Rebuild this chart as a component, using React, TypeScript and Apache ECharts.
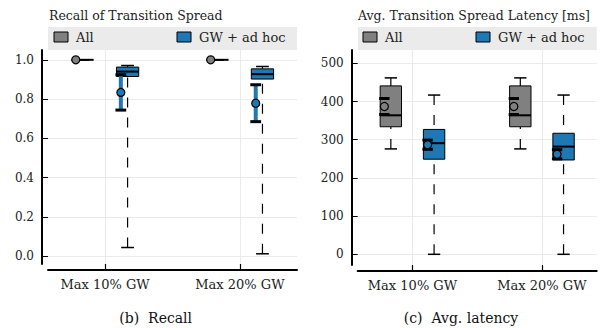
import React, { useEffect, useRef } from "react";
import * as echarts from "echarts";

// ---- data ----
const categories = ["Max 10% GW", "Max 20% GW"];
const seriesNames = ["All", "GW + ad hoc"];
const colors = ["#808080", "#1f77b4"];

// box stats: [min, q1, median, q3, max] per category
const recallAllBox = [
  [1.0, 1.0, 1.0, 1.0, 1.0],
  [1.0, 1.0, 1.0, 1.0, 1.0],
];
const recallAllMean = [1.0, 1.0];
const recallAllErr = [0, 0];
const recallGwBox = [
  [0.044, 0.915, 0.94, 0.963, 0.971],
  [0.012, 0.902, 0.927, 0.954, 0.966],
];
const recallGwMean = [0.834, 0.779];
const recallGwErr = [0.09, 0.094];

const latAllBox = [
  [276, 334, 364, 441, 462],
  [276, 334, 364, 441, 462],
];
const latAllMean = [387, 387];
const latAllErr = [21, 21];
const latGwBox = [
  [0, 249, 291, 327, 417],
  [0, 247, 282, 317, 417],
];
const latGwMean = [287, 262];
const latGwErr = [12, 12];

const recallTicks = [0, 0.2, 0.4, 0.6, 0.8, 1.0];
const latencyTicks = [0, 100, 200, 300, 400, 500];

const FONT = "DejaVu Serif";

function buildData(box: number[][], mean: number[], err: number[]) {
  return box.map((b, i) => [i + 1, ...b, mean[i], err[i]]);
}

const BOX_OFFSET = 0.167;
const BOX_W = 0.165;
const CAP_W = 0.095;
const MEAN_OFF = -0.05;
const ERR_CAP_W = 0.08;

function makeRenderItem(seriesIdx: number) {
  const off = seriesIdx === 0 ? -BOX_OFFSET : BOX_OFFSET;
  const color = colors[seriesIdx];
  return (params: any, api: any) => {
    const x = api.value(0) + off;
    const mn = api.value(1);
    const q1 = api.value(2);
    const med = api.value(3);
    const q3 = api.value(4);
    const mx = api.value(5);
    const mean = api.value(6);
    const err = api.value(7);
    const unit = api.size([1, 0])[0];
    const [cx] = api.coord([x, 0]);
    const yMin = api.coord([x, mn])[1];
    const yQ1 = api.coord([x, q1])[1];
    const yMed = api.coord([x, med])[1];
    const yQ3 = api.coord([x, q3])[1];
    const yMax = api.coord([x, mx])[1];
    const bw = BOX_W * unit;
    const cw = CAP_W * unit;
    const children: any[] = [];
    const dash = { stroke: "#000", lineWidth: 1.2, lineDash: [10, 10] };
    if (yMin - yQ1 > 0.5) {
      children.push({ type: "line", shape: { x1: cx, y1: yMin, x2: cx, y2: yQ1 }, style: dash });
    }
    if (yQ3 - yMax > 0.5) {
      children.push({ type: "line", shape: { x1: cx, y1: yMax, x2: cx, y2: yQ3 }, style: dash });
    }
    children.push({ type: "line", shape: { x1: cx - cw / 2, y1: yMin, x2: cx + cw / 2, y2: yMin }, style: { stroke: "#000", lineWidth: 1.5 } });
    children.push({ type: "line", shape: { x1: cx - cw / 2, y1: yMax, x2: cx + cw / 2, y2: yMax }, style: { stroke: "#000", lineWidth: 1.5 } });
    if (yQ1 - yQ3 > 0.5) {
      children.push({
        type: "rect",
        shape: { x: cx - bw / 2, y: yQ3, width: bw, height: yQ1 - yQ3 },
        style: { fill: color, stroke: "#000", lineWidth: 1 },
      });
    }
    children.push({ type: "line", shape: { x1: cx - bw / 2, y1: yMed, x2: cx + bw / 2, y2: yMed }, style: { stroke: "#000", lineWidth: 2 } });
    // mean +- err
    const mx0 = api.coord([x + MEAN_OFF, 0])[0];
    const yMean = api.coord([x, mean])[1];
    const ecw = ERR_CAP_W * unit;
    if (err > 0) {
      const yHi = api.coord([x, mean + err])[1];
      const yLo = api.coord([x, mean - err])[1];
      children.push({ type: "line", shape: { x1: mx0, y1: yHi, x2: mx0, y2: yLo }, style: { stroke: color, lineWidth: 4 } });
      children.push({ type: "line", shape: { x1: mx0 - ecw / 2, y1: yHi, x2: mx0 + ecw / 2, y2: yHi }, style: { stroke: "#000", lineWidth: 3 } });
      children.push({ type: "line", shape: { x1: mx0 - ecw / 2, y1: yLo, x2: mx0 + ecw / 2, y2: yLo }, style: { stroke: "#000", lineWidth: 3 } });
    }
    children.push({ type: "circle", shape: { cx: mx0, cy: yMean, r: 4 }, style: { fill: color, stroke: "#000", lineWidth: 1.2 } });
    return { type: "group", children };
  };
}

function xAxisCfg(gridIndex: number) {
  return {
    type: "value",
    gridIndex,
    min: 1 - 0.423,
    max: 2 + 0.423,
    offset: 6,
    axisLine: { show: true, onZero: false, lineStyle: { color: "#000", width: 2 } },
    axisTick: { show: true, inside: true, length: 6, customValues: [1, 2], lineStyle: { color: "#000", width: 1.2 } },
    axisLabel: {
      customValues: [1, 2],
      formatter: (v: number) => categories[Math.round(v) - 1] || "",
      fontFamily: FONT,
      fontSize: 13,
      color: "#222",
      margin: 8,
    },
    splitLine: { show: true, lineStyle: { color: "#ebebeb", width: 1 } },
  };
}

function yAxisCfg(gridIndex: number, min: number, max: number, ticks: number[], fmt: (v: number) => string) {
  return {
    type: "value",
    gridIndex,
    min,
    max,
    offset: 6,
    axisLine: { show: true, onZero: false, lineStyle: { color: "#000", width: 2 } },
    axisTick: { show: true, inside: true, length: 6, customValues: ticks, lineStyle: { color: "#000", width: 1 } },
    axisLabel: { customValues: ticks, formatter: fmt, fontFamily: FONT, fontSize: 12, color: "#222", margin: 8 },
    splitLine: { show: true, lineStyle: { color: "#ebebeb", width: 1 } },
  };
}

function legendGraphics(x0: number, x1: number, m1: number, t1: number, m2: number, t2: number) {
  return [
    { type: "rect", shape: { x: x0, y: 27, width: x1 - x0, height: 23 }, style: { fill: "#ebebeb" }, silent: true },
    { type: "rect", shape: { x: m1, y: 32, width: 14, height: 10 }, style: { fill: colors[0], stroke: "#000", lineWidth: 1 } },
    { type: "text", x: t1, y: 37.5, style: { text: seriesNames[0], fontFamily: FONT, fontSize: 13, fill: "#222", textVerticalAlign: "middle" } },
    { type: "rect", shape: { x: m2, y: 32, width: 14, height: 10 }, style: { fill: colors[1], stroke: "#000", lineWidth: 1 } },
    { type: "text", x: t2, y: 37.5, style: { text: seriesNames[1], fontFamily: FONT, fontSize: 13, fill: "#222", textVerticalAlign: "middle" } },
  ];
}

export default function App() {
  const ref = useRef<HTMLDivElement>(null);
  useEffect(() => {
    document.body.style.margin = "0";
    if (!ref.current) return;
    const chart = echarts.init(ref.current, null, { renderer: "svg" });
    const option: any = {
      animation: false,
      backgroundColor: "#fff",
      grid: [
        { left: 48, top: 50, width: 249, height: 214 },
        { left: 357.7, top: 50, width: 239, height: 215 },
      ],
      xAxis: [xAxisCfg(0), xAxisCfg(1)],
      yAxis: [
        yAxisCfg(0, -0.04, 1.05, recallTicks, (v: number) => v.toFixed(1)),
        yAxisCfg(1, -28, 535, latencyTicks, (v: number) => String(Math.round(v))),
      ],
      series: [
        { type: "custom", name: seriesNames[0], xAxisIndex: 0, yAxisIndex: 0, renderItem: makeRenderItem(0), data: buildData(recallAllBox, recallAllMean, recallAllErr), encode: { x: 0, y: [1, 5] }, z: 3 },
        { type: "custom", name: seriesNames[1], xAxisIndex: 0, yAxisIndex: 0, renderItem: makeRenderItem(1), data: buildData(recallGwBox, recallGwMean, recallGwErr), encode: { x: 0, y: [1, 5] }, z: 3 },
        { type: "custom", name: seriesNames[0], xAxisIndex: 1, yAxisIndex: 1, renderItem: makeRenderItem(0), data: buildData(latAllBox, latAllMean, latAllErr), encode: { x: 0, y: [1, 5] }, z: 3 },
        { type: "custom", name: seriesNames[1], xAxisIndex: 1, yAxisIndex: 1, renderItem: makeRenderItem(1), data: buildData(latGwBox, latGwMean, latGwErr), encode: { x: 0, y: [1, 5] }, z: 3 },
      ],
      graphic: [
        { type: "text", x: 49, y: 15, style: { text: "Recall of Transition Spread", fontFamily: FONT, fontSize: 12.5, fill: "#222", textVerticalAlign: "middle" } },
        { type: "text", x: 358, y: 15, style: { text: "Avg. Transition Spread Latency [ms]", fontFamily: FONT, fontSize: 12.5, fill: "#222", textVerticalAlign: "middle" } },
        ...legendGraphics(48, 297, 54, 76, 177, 199),
        ...legendGraphics(358, 596.7, 363, 385, 476, 498),
        { type: "text", x: 155.7, y: 318, style: { text: "(b)  Recall", fontFamily: FONT, fontSize: 14, fill: "#111", textAlign: "center", textVerticalAlign: "middle" } },
        { type: "text", x: 461, y: 318, style: { text: "(c)  Avg. latency", fontFamily: FONT, fontSize: 14, fill: "#111", textAlign: "center", textVerticalAlign: "middle" } },
      ],
    };
    chart.setOption(option);
    return () => chart.dispose();
  }, []);
  return <div ref={ref} style={{ width: 610, height: 328 }} />;
}
